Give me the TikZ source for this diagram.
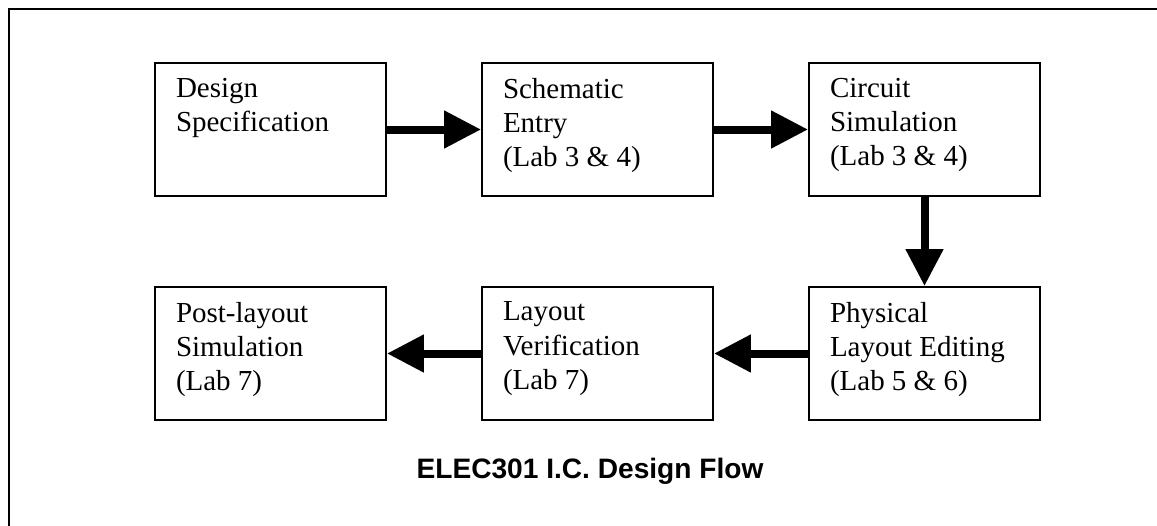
\documentclass[tikz,border=0pt]{standalone}
\usepackage{fontspec}
\setmainfont{Liberation Serif}
\newfontfamily\titlefont{Liberation Sans}
\usetikzlibrary{arrows.meta}
\newcommand{\stagefont}{\fontsize{16.5}{19.4}\selectfont}

\begin{document}
\begin{tikzpicture}[
 >={Triangle[length=0.74cm,width=0.72cm]},
 stage/.style={
  draw=black,
  line width=1.1pt,
  rectangle,
  inner xsep=0.42cm,
  inner ysep=0.3cm,
  font=\stagefont,
  execute at begin node={\begin{minipage}[t][2.06cm][t]{3.78cm}\raggedright},
  execute at end node={\end{minipage}},
 },
 flow/.style={line width=0.16cm},
]

\useasboundingbox (0,0) rectangle (23.14,-10.5);
\draw[line width=1.1pt] (0.18,-10.9) -- (0.18,-0.18) -- (23.5,-0.18);

\node at (5.41,-2.59) [stage] (spec) {Design\\Specification};
\node at (11.95,-2.59) [stage] (schematic) {Schematic\\Entry\\(Lab 3 \& 4)};
\node at (18.49,-2.59) [stage] (circuit) {Circuit\\Simulation\\(Lab 3 \& 4)};

\node at (18.49,-7.07) [stage] (physical) {Physical\\Layout Editing\\(Lab 5 \& 6)};
\node at (11.95,-7.07) [stage] (verify) {Layout\\Verification\\(Lab 7)};
\node at (5.41,-7.07) [stage] (postlayout) {Post-layout\\Simulation\\(Lab 7)};

\draw[->,flow] (spec.east) -- (schematic.west);
\draw[->,flow] (schematic.east) -- (circuit.west);
\draw[->,flow] (circuit.south) -- (physical.north);
\draw[->,flow] (physical.west) -- (verify.east);
\draw[->,flow] (verify.west) -- (postlayout.east);

\node at (11.8,-9.42) [font=\titlefont\bfseries\fontsize{16}{19}\selectfont] (title) {ELEC301 I.C. Design Flow};

\end{tikzpicture}
\end{document}
